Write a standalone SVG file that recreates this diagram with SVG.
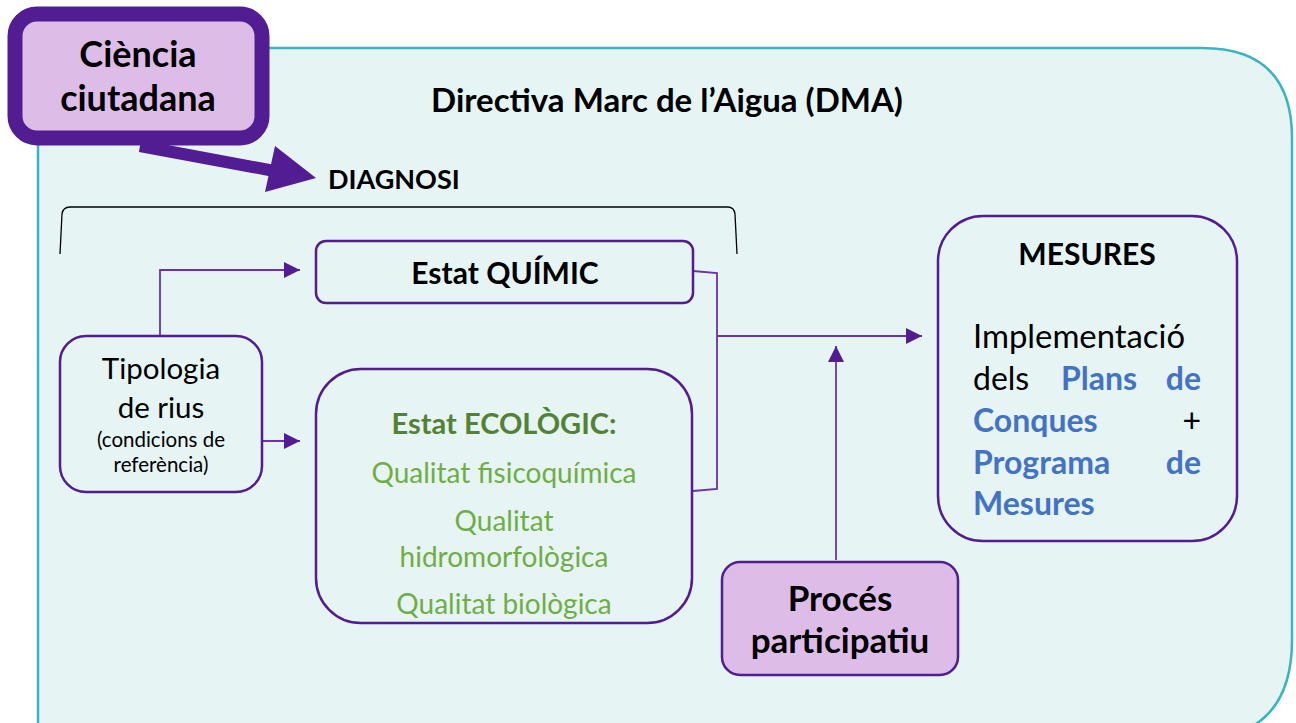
<svg xmlns="http://www.w3.org/2000/svg" width="1296" height="723" viewBox="0 0 1296 723">
<style>
text{font-family:Lato,"Open Sans","Liberation Sans",sans-serif;fill:#000}
.b{font-weight:bold}
.node{fill:none;stroke:#521C92;stroke-width:2.5}
.pink{fill:#DDBDE8;stroke:#521C92}
.c{text-anchor:middle}
.conn{fill:none;stroke:#6A32A8;stroke-width:1.8}
.g1{fill:#538135}
.g2{fill:#70AD47}
.bl{fill:#4472C4;font-weight:bold}
</style>
<defs>
<marker id="ah2" viewBox="0 0 10 10" refX="10" refY="5" markerWidth="16" markerHeight="16" markerUnits="userSpaceOnUse" orient="auto">
<path d="M0,0 L10,5 L0,10 z" fill="#521C92"/>
</marker>
</defs>
<g id="dma">
<path d="M38,740 L38,148 Q38,48 138,48 L1202,48 Q1292,48 1292,138 L1292,640 Q1292,740 1192,740 Z" fill="#E6F5F3" stroke="#3BB3C3" stroke-width="2.5"/>
<text class="b c" x="667" y="112" font-size="33">Directiva Marc de l’Aigua (DMA)</text>
</g>
<g id="diagnosi">
<text class="b" x="328" y="189" font-size="27">DIAGNOSI</text>
<path d="M60,254 L62,214 Q63,207 70,207 L728,207 Q734,207 735,214 L737,254" fill="none" stroke="#000" stroke-width="1.3"/>
</g>
<g id="connectors">
<path class="conn" d="M160,336 L160,270 L300,270" marker-end="url(#ah2)"/>
<path class="conn" d="M262,441 L300,441" marker-end="url(#ah2)"/>
<path class="conn" d="M693,271 L717,273 L717,489 L693,491"/>
<path class="conn" d="M717,336 L922,336" marker-end="url(#ah2)"/>
<path class="conn" d="M836,560 L836,346" marker-end="url(#ah2)"/>
<line x1="140" y1="146" x2="285" y2="173" stroke="#521C92" stroke-width="12"/>
<polygon points="275,146 316,178 265,192" fill="#521C92"/>
</g>
<g id="quimic">
<rect class="node" x="316" y="241" width="377" height="62" rx="10"/>
<text class="b c" x="505" y="284" font-size="30">Estat QUÍMIC</text>
</g>
<g id="tipologia">
<rect class="node" x="60" y="336" width="202" height="156" rx="26"/>
<text class="c" x="161" y="379" font-size="29.5">Tipologia</text>
<text class="c" x="161" y="418" font-size="29.5">de rius</text>
<text class="c" x="161" y="447" font-size="20.5">(condicions de</text>
<text class="c" x="161" y="472" font-size="20.5">referència)</text>
</g>
<g id="ecologic">
<rect class="node" x="316" y="369" width="376" height="254" rx="45"/>
<text class="b c g1" x="504" y="434" font-size="29">Estat ECOLÒGIC:</text>
<text class="c g2" x="504" y="483" font-size="28">Qualitat fisicoquímica</text>
<text class="c g2" x="504" y="531" font-size="28">Qualitat</text>
<text class="c g2" x="504" y="567" font-size="28">hidromorfològica</text>
<text class="c g2" x="504" y="614" font-size="28">Qualitat biològica</text>
</g>
<g id="mesures">
<rect class="node" x="938" y="216" width="299" height="325" rx="45"/>
<text class="b c" x="1087" y="265" font-size="30">MESURES</text>
<text x="973" y="348" font-size="32" textLength="212" lengthAdjust="spacingAndGlyphs">Implementació</text>
<text x="973" y="390" font-size="32">dels</text>
<text class="bl" x="1061" y="390" font-size="32">Plans</text>
<text class="bl" x="1201" y="390" font-size="32" text-anchor="end">de</text>
<text class="bl" x="973" y="432" font-size="32">Conques</text>
<text x="1201" y="432" font-size="32" text-anchor="end">+</text>
<text class="bl" x="973" y="474" font-size="32">Programa</text>
<text class="bl" x="1201" y="474" font-size="32" text-anchor="end">de</text>
<text class="bl" x="973" y="515" font-size="32">Mesures</text>
</g>
<g id="proces">
<rect class="pink" x="722" y="562" width="236" height="113" rx="18" stroke-width="2.5"/>
<text class="b c" x="840" y="611" font-size="35">Procés</text>
<text class="b c" x="840" y="653" font-size="35">participatiu</text>
</g>
<g id="ciencia">
<rect class="pink" x="15" y="14" width="247" height="124" rx="22" stroke-width="15"/>
<text class="b c" x="138" y="67" font-size="36">Ciència</text>
<text class="b c" x="138" y="111" font-size="36">ciutadana</text>
</g>
</svg>
